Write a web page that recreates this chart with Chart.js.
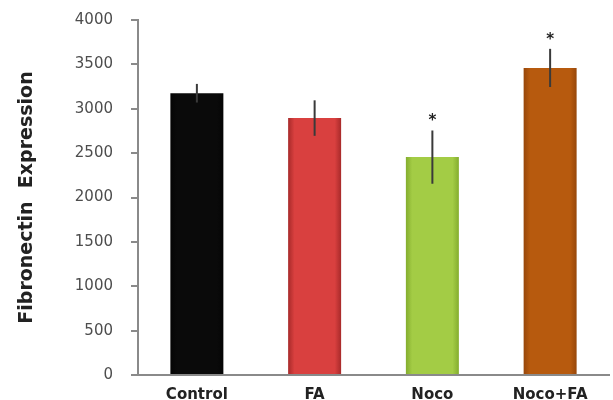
<!DOCTYPE html>
<html>
<head>
<meta charset="utf-8">
<script src="https://cdn.jsdelivr.net/npm/chart.js@4.4.0/dist/chart.umd.min.js"></script>
<style>
    html, body { margin: 0; padding: 0; background: #fff; }
    #wrap { width: 613px; height: 400px; position: relative; }
</style>
</head>
<body>
<div id="wrap"><canvas id="fnChart"></canvas></div>
<script>
// Chart data
const categories = ['Control', 'FA', 'Noco', 'Noco+FA'];
const meanValues = [3175, 2895, 2455, 3460];
const errorValues = [105, 200, 300, 215];
const significance = ['', '', '*', '*'];
const barColors = ['#0a0a0a', '#d9403f', '#a3cc45', '#b75a0e'];
const barEdgeColors = ['#050505', '#a82a2a', '#84ad2e', '#97470a'];
const yTicks = [0, 500, 1000, 1500, 2000, 2500, 3000, 3500, 4000];

const BAR_PCT = 0.45;

/**
 * Horizontal shading so the bars look slightly rounded
 */
function barShade(context) {
    const i = context.dataIndex;
    const chart = context.chart;
    const xs = chart.scales.x;
    if (!xs || !chart.chartArea) {
        return barColors[i];
    }
    const cx = xs.getPixelForValue(i);
    const half = (xs.width / categories.length) * BAR_PCT / 2;
    const g = chart.ctx.createLinearGradient(cx - half, 0, cx + half, 0);
    g.addColorStop(0, barEdgeColors[i]);
    g.addColorStop(0.12, barColors[i]);
    g.addColorStop(0.5, barColors[i]);
    g.addColorStop(0.88, barColors[i]);
    g.addColorStop(1, barEdgeColors[i]);
    return g;
}

/**
 * Draw error bars and significance stars on top of the bars
 */
const errorBarPlugin = {
    id: 'errorBars',
    afterDatasetsDraw(chart) {
        const ctx = chart.ctx;
        const y = chart.scales.y;
        const meta = chart.getDatasetMeta(0);
        ctx.save();
        meta.data.forEach(function(bar, i) {
            const top = y.getPixelForValue(meanValues[i] + errorValues[i]);
            const bottom = y.getPixelForValue(meanValues[i] - errorValues[i]);
            ctx.strokeStyle = '#3a3a3a';
            ctx.lineWidth = 2;
            ctx.beginPath();
            ctx.moveTo(bar.x, top);
            ctx.lineTo(bar.x, bottom);
            ctx.stroke();
            if (significance[i]) {
                ctx.fillStyle = '#222';
                ctx.font = 'bold 15px "DejaVu Sans"';
                ctx.textAlign = 'center';
                ctx.textBaseline = 'middle';
                ctx.fillText(significance[i], bar.x, top - 9);
            }
        });
        ctx.restore();
    }
};

document.addEventListener('DOMContentLoaded', function() {
    const chartEl = document.getElementById('fnChart');
    new Chart(chartEl, {
        type: 'bar',
        data: {
            labels: categories,
            datasets: [{
                data: meanValues,
                backgroundColor: barShade,
                borderWidth: 0,
                barPercentage: BAR_PCT,
                categoryPercentage: 1.0
            }]
        },
        options: {
            responsive: true,
            maintainAspectRatio: false,
            animation: false,
            layout: {
                padding: { top: 20, right: 4, left: 16, bottom: 0 }
            },
            plugins: {
                legend: { display: false },
                tooltip: { enabled: false }
            },
            scales: {
                x: {
                    grid: { display: false },
                    border: { color: '#8a8a8a', width: 2 },
                    ticks: {
                        color: '#222',
                        padding: 3,
                        font: { family: 'DejaVu Sans', size: 15, weight: 'bold' }
                    },
                    afterFit: function(scale) { scale.height = 25; }
                },
                y: {
                    min: 0,
                    max: 4000,
                    afterBuildTicks: function(scale) {
                        scale.ticks = yTicks.map(v => ({ value: v }));
                    },
                    grid: {
                        drawOnChartArea: false,
                        drawTicks: true,
                        tickLength: 7,
                        color: '#8a8a8a',
                        lineWidth: 2
                    },
                    border: { color: '#8a8a8a', width: 2 },
                    ticks: {
                        color: '#4d4d4d',
                        padding: 18,
                        font: { family: 'DejaVu Sans', size: 15 },
                        callback: function(value) { return String(value); }
                    },
                    title: {
                        display: true,
                        text: 'Fibronectin  Expression',
                        color: '#222',
                        padding: { top: 0, bottom: 0 },
                        font: { family: 'DejaVu Sans', size: 19, weight: 'bold' }
                    },
                    afterFit: function(scale) {
                        scale.width = 122;
                        // the tick padding should not shrink the plot vertically
                        scale.paddingTop = 0;
                        scale.paddingBottom = 0;
                    }
                }
            }
        },
        plugins: [errorBarPlugin]
    });
});
</script>
</body>
</html>
